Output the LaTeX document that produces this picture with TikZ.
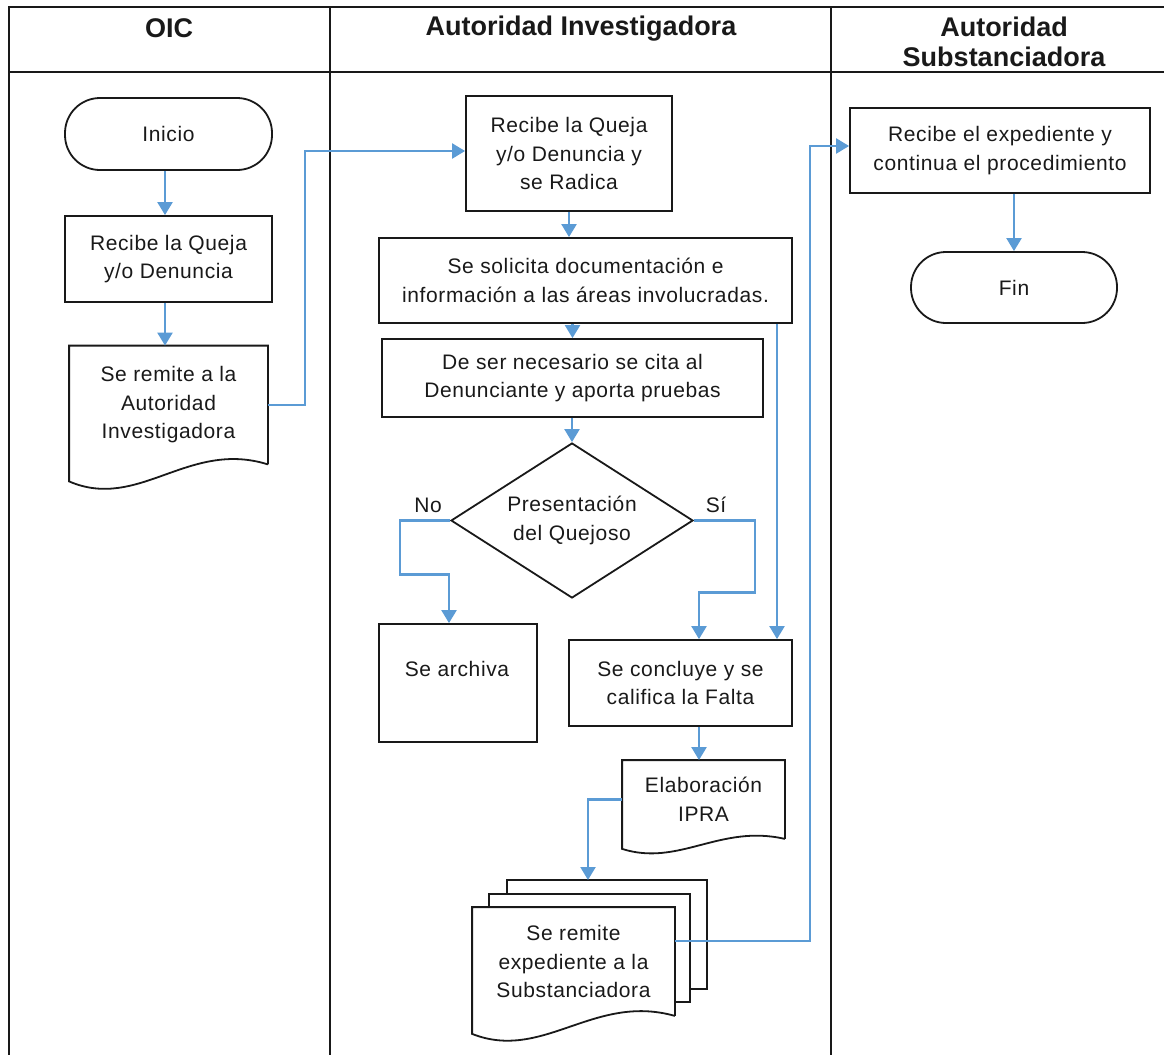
\documentclass[tikz,border=0pt]{standalone}
\usepackage{fontspec}
\setmainfont{Liberation Sans}
\newfontfamily\bodyfont[LetterSpace=3]{Liberation Sans}
\usetikzlibrary{arrows.meta,shapes.geometric,calc}
\definecolor{connblue}{RGB}{91,155,213}
\definecolor{ink}{RGB}{25,25,25}
\tikzset{
  lane/.style={line width=1.8pt, draw=ink},
  box/.style={draw=ink, line width=1.8pt, rectangle, inner sep=0pt, align=center,
    font=\bodyfont\fontsize{21}{28.5}\selectfont, text=ink},
  term/.style={box, rounded corners=35pt},
  docnode/.style={box, draw=none},
  dec/.style={diamond, draw=ink, line width=1.8pt, inner sep=0pt, align=center, aspect=1.56,
    minimum width=242pt, minimum height=155pt,
    font=\bodyfont\fontsize{21}{28.5}\selectfont, text=ink},
  shapeline/.style={draw=ink, line width=1.8pt, line join=miter},
  conn/.style={draw=connblue, line width=2.2pt, -{Triangle[width=15pt,length=13pt]}},
  hdr/.style={font=\bfseries\fontsize{27}{30}\selectfont, align=center, text=ink},
  lbl/.style={font=\bodyfont\fontsize{21}{25}\selectfont, text=ink, inner sep=0pt},
}
\newcommand{\docwave}[4]{%
  \draw[shapeline] (#1.south east) -- (#1.north east) -- (#1.north west) -- ([yshift=-#2pt]#1.south west)
    .. controls ($([yshift=-#2pt-#3pt]#1.south west)!0.35!([yshift=-#2pt-#3pt]#1.south east)$)
    and ($([yshift=#4pt]#1.south west)!0.6!([yshift=#4pt]#1.south east)$) .. (#1.south east);
}
\begin{document}
\begin{tikzpicture}[x=1pt,y=-1pt]
\useasboundingbox (0,0) rectangle (1164,1055);
% swimlanes
\draw[lane] (1164,7) -- (9,7) -- (9,1055);
\draw[lane] (9,72) -- (1164,72);
\draw[lane] (330,7) -- (330,1055);
\draw[lane] (831,7) -- (831,1055);
\node[hdr] (h1) at (169,28) {OIC};
\node[hdr] (h2) at (581,29) {Autoridad Investigadora};
\node[hdr] (h3) at (1004,42) {Autoridad\\Substanciadora};
% lane 1
\node[term, minimum width=207pt, minimum height=72pt] (inicio) at (168.5,134) {Inicio};
\node[box, minimum width=207pt, minimum height=86pt] (recibe1) at (168.5,259) {Recibe la Queja\\y/o Denuncia};
\node[docnode, minimum width=197pt, minimum height=117pt] (remite1) at (168.5,405) {Se remite a la\\Autoridad\\Investigadora};
\docwave{remite1}{17}{30}{25}
% lane 2
\node[box, minimum width=206pt, minimum height=115pt] (recibe2) at (569,153.5) {Recibe la Queja\\y/o Denuncia y\\se Radica};
\node[box, minimum width=413pt, minimum height=85pt] (solicita) at (585.5,280.5) {Se solicita documentación e\\información a las áreas involucradas.};
\node[box, minimum width=381pt, minimum height=78pt] (cita) at (572.5,378) {De ser necesario se cita al\\Denunciante y aporta pruebas};
\node[dec] (dia) at (572,520.5) {Presentación\\del Quejoso};
\node[lbl] (no) at (428,505) {No};
\node[lbl] (si) at (716,505) {Sí};
\node[box, minimum width=158pt, minimum height=118pt] (archiva) at (458,683) {};
\node[lbl] (archivaT) at (457,669) {Se archiva};
\node[box, minimum width=223pt, minimum height=86pt] (concluye) at (680.5,683) {Se concluye y se\\califica la Falta};
\node[docnode, minimum width=161pt, minimum height=77pt] (elab) at (703.5,799.5) {Elaboración\\IPRA};
\docwave{elab}{10}{18}{15}
\draw[shapeline] (507,894) -- (507,880) -- (707,880) -- (707,989) -- (690,989);
\draw[shapeline] (489,908) -- (489,894) -- (690,894) -- (690,1002) -- (674,1002);
\coordinate (mdtop) at (588,880);
\node[docnode, minimum width=201pt, minimum height=107pt] (multidoc) at (573.5,961.5) {Se remite\\expediente a la\\Substanciadora};
\docwave{multidoc}{18}{28}{23}
% lane 3
\node[box, minimum width=300pt, minimum height=85pt] (recibe3) at (1000,150.5) {Recibe el expediente y\\continua el procedimiento};
\node[term, minimum width=206pt, minimum height=71pt] (fin) at (1014,287.5) {Fin};
% connectors
\draw[conn] ([xshift=-3.5pt]inicio.south) -- ([xshift=-3.5pt]recibe1.north);
\draw[conn] ([xshift=-3.5pt]recibe1.south) -- ([xshift=-3.5pt]remite1.north);
\coordinate (busA) at (305,151);
\draw[conn] (remite1.east) -| (busA) -- (busA -| recibe2.west);
\draw[conn] (recibe2.south) -- (recibe2.south |- solicita.north);
\draw[conn] (cita.north |- solicita.south) -- (cita.north);
\draw[conn] (cita.south -| dia.north) -- (dia.north);
\draw[conn] (dia.west) -- ++(-50,0) -- ++(0,54) -| ([xshift=-9pt]archiva.north);
\draw[conn] (dia.east) -- ++(61,0) -- ++(0,72) -| ([xshift=18.5pt]concluye.north);
\draw[conn] ([xshift=191.5pt]solicita.south) -- ([xshift=191.5pt]solicita.south |- concluye.north);
\draw[conn] ([xshift=18.5pt]concluye.south) -- ([xshift=18.5pt]concluye.south |- elab.north);
\draw[conn] (elab.west) -| (mdtop);
\coordinate (busB) at (810,146);
\draw[conn] ([yshift=20.5pt]multidoc.east) -| (busB) -- (busB -| recibe3.west);
\draw[conn] (fin.north |- recibe3.south) -- (fin.north);
\end{tikzpicture}
\end{document}
